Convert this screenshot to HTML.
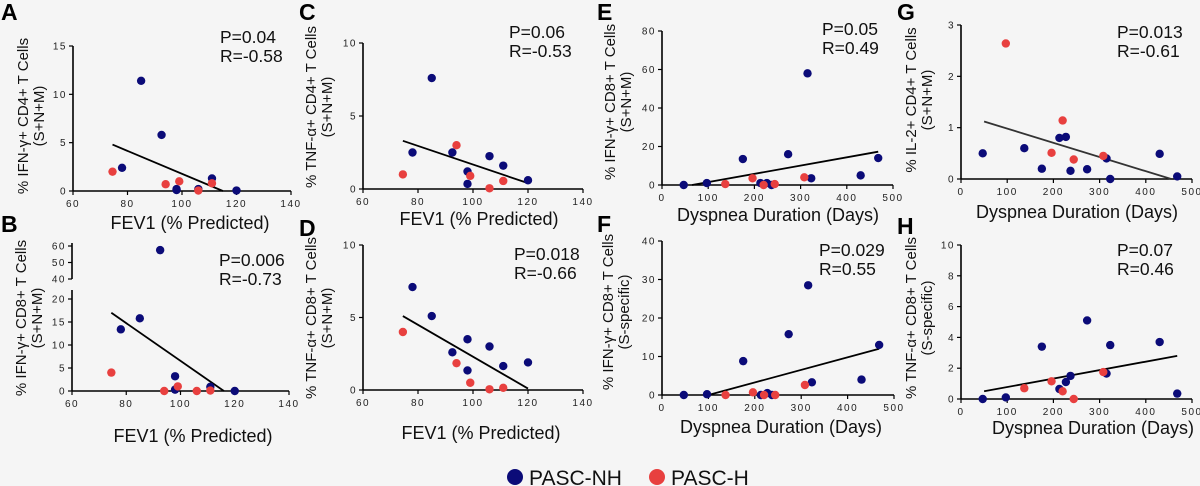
<!DOCTYPE html>
<html><head><meta charset="utf-8"><style>
html,body{margin:0;padding:0;background:#f5f5f5;width:1200px;height:486px;overflow:hidden}
svg{font-family:"Liberation Sans",sans-serif}
</style></head><body>
<svg id="fig" width="1200" height="486"></svg>
<script>
// ---- data ----
const fevBlueX=[85,92.5,78,98,98,106,111,120];
const fevRedX=[74.5,94,99,106,111];
const aBlue=[11.4,5.8,2.4,0.2,0.1,0.2,1.3,0.05];
const aRed=[2.0,0.7,1.0,0.05,0.8];
const bBlueX=[92.5,85,78,98,98,111,120];
const bBlue=[57.5,15.8,13.4,3.2,0.3,0.9,0];
const bRed=[4,0,1,0,0.1];
const cBlue=[7.6,2.5,2.5,1.2,0.35,2.25,1.6,0.6];
const cRed=[1.0,3.0,0.9,0.05,0.55];
const dBlue=[5.1,2.6,7.1,3.5,1.35,3.0,1.65,1.9];
const dRed=[4.0,1.85,0.5,0.05,0.15];
const dysBlueX=[47,97,175,213,227,237,273,315,323,430,468];
const dysRedX=[137,196,220,244,308];
const eBlue=[0,1,13.5,1,1,0,16,58,3.5,5,14];
const eRed=[0.5,3.5,0,0.5,4];
const fBlue=[0,0.2,8.8,0,0.5,0,15.8,28.5,3.3,4,13];
const fRed=[0,0.7,0,0,2.6];
const gBlue=[0.5,0.6,0.2,0.8,0.82,0.16,0.19,0.4,0,0.49,0.05];
const gRed=[2.64,0.51,1.14,0.38,0.45];
const hBlue=[0,0.1,3.4,0.65,1.1,1.5,5.1,1.65,3.5,3.7,0.35];
const hRed=[0.7,1.15,0.5,0,1.75];
const fevTicks=[60,80,100,120,140];
const dysTicks=[0,100,200,300,400,500];
const trendA=[[74.5,4.8],[115,0]];
const trendB=[[74.5,17],[116,0]];
const trendC=[[74.5,3.3],[120,0.4]];
const trendD=[[74.5,5.1],[120,0.1]];
const trendE=[[65,0],[468,17.3]];
const trendF=[[100,0],[468,12]];
const trendG=[[50,1.12],[455,0]];
const trendH=[[50,0.5],[468,2.8]];

const NS="http://www.w3.org/2000/svg";
const svg=document.getElementById('fig');
function mk(tag,attrs,parent,text){const e=document.createElementNS(NS,tag);for(const k in attrs)e.setAttribute(k,attrs[k]);if(text!==undefined)e.textContent=text;(parent||svg).appendChild(e);return e;}
const BLUE="#0b0b78",RED="#e8403f";

function panel(p){
  const g=mk('g',{});
  
  
  const sx=v=>p.x0+(v-p.xmin)/(p.xmax-p.xmin)*(p.x1-p.x0);
  const sy=p.sy||(v=>p.yb+(v-0)/(p.ymax)*(p.yt-p.yb));
  const L=mk('text',{x:p.lx,y:p.ly,'font-size':23,'font-weight':'bold',fill:'#000'},g,p.id);
  
  
  const xa=mk('line',{x1:p.x0,y1:p.yb,x2:p.x1,y2:p.yb,stroke:'#000','stroke-width':1.6},g);
  
  
  p.xticks.forEach(t=>{
    mk('line',{x1:sx(t),y1:p.yb,x2:sx(t),y2:p.yb+4,stroke:'#000','stroke-width':1.2},g);
    const tl=mk('text',{x:sx(t),y:p.yb+16,'font-size':10,'text-anchor':'middle','letter-spacing':1.5,fill:'#222'},g,t);
    
    
  });
  (p.ysegs||[[p.yb,p.yt]]).forEach(s=>{
    const ya=mk('line',{x1:p.x0,y1:s[0],x2:p.x0,y2:s[1],stroke:'#000','stroke-width':1.6},g);
    
    
  });
  p.yticks.forEach(t=>{
    const y=sy(t);
    mk('line',{x1:p.x0-4,y1:y,x2:p.x0,y2:y,stroke:'#000','stroke-width':1.2},g);
    const tl=mk('text',{x:p.x0-6,y:y+3.5,'font-size':10,'text-anchor':'end','letter-spacing':1.5,fill:'#222'},g,t);
    
    
  });
  const xt=mk('text',{x:p.xtx,y:p.xty,'font-size':18,'text-anchor':'middle',fill:'#111'},g,p.xtitle);
  
  
  const yt=mk('text',{transform:`translate(${p.ytx},${p.yty}) rotate(-90)`,'font-size':15,'text-anchor':'middle',fill:'#111'},g);
  
  
  mk('tspan',{x:0,y:0},yt,p.ytitle[0]);
  mk('tspan',{x:0,y:16},yt,p.ytitle[1]);
  const tr=mk('line',{x1:sx(p.trend[0][0]),y1:sy(p.trend[0][1]),x2:sx(p.trend[1][0]),y2:sy(p.trend[1][1]),stroke:p.tc||'#000','stroke-width':1.8},g);
  
  
  p.blueX.forEach((xv,i)=>{
    const c=mk('circle',{cx:sx(xv),cy:sy(p.blue[i]),r:4.2,fill:BLUE},g);
    
    
  });
  p.redX.forEach((xv,i)=>{
    const c=mk('circle',{cx:sx(xv),cy:sy(p.red[i]),r:4.2,fill:RED},g);
    
    
  });
  const st=mk('text',{x:p.px,y:p.py,'font-size':17.5,fill:'#111'},g);
  
  
  mk('tspan',{x:p.px,y:p.py},st,p.P);
  mk('tspan',{x:p.px,y:p.py+19},st,p.R);
}
const fevT="FEV1 (% Predicted)",dysT="Dyspnea Duration (Days)";
panel({id:'A',lx:1,ly:20,x0:73,x1:291,xmin:60,xmax:140,yb:191,yt:46,ymax:15,xticks:fevTicks,yticks:[0,5,10,15],
  blueX:fevBlueX,blue:aBlue,redX:fevRedX,red:aRed,trend:trendA,xtitle:fevT,xtx:190,xty:229,
  ytitle:["% IFN-γ+ CD4+ T Cells","(S+N+M)"],ytx:28,yty:116,px:220,py:43,P:"P=0.04",R:"R=-0.58"});
const sB=v=>v>=40? 279+(v-40)/20*(246-279) : 391+v/20*(299-391);
panel({id:'B',lx:1,ly:232,x0:72,x1:289,xmin:60,xmax:140,yb:391,yt:299,ymax:20,sy:sB,ysegs:[[391,290],[279,243]],xticks:fevTicks,yticks:[0,5,10,15,20,40,50,60],
  blueX:bBlueX,blue:bBlue,redX:fevRedX,red:bRed,trend:trendB,xtitle:fevT,xtx:193,xty:442,
  ytitle:["% IFN-γ+ CD8+ T Cells","(S+N+M)"],ytx:26,yty:318,px:219,py:266,P:"P=0.006",R:"R=-0.73"});
panel({id:'C',lx:299,ly:20,x0:363,x1:583,xmin:60,xmax:140,yb:189,yt:43,ymax:10,xticks:fevTicks,yticks:[0,5,10],
  blueX:fevBlueX,blue:cBlue,redX:fevRedX,red:cRed,trend:trendC,xtitle:fevT,xtx:479,xty:225,
  ytitle:["% TNF-α+ CD4+ T Cells","(S+N+M)"],ytx:316,yty:107,px:509,py:38,P:"P=0.06",R:"R=-0.53"});
panel({id:'D',lx:299,ly:236,x0:363,x1:583,xmin:60,xmax:140,yb:390,yt:245,ymax:10,xticks:fevTicks,yticks:[0,5,10],
  blueX:[85,92.5,78,98,98,106,111,120],blue:dBlue,redX:fevRedX,red:dRed,trend:trendD,xtitle:fevT,xtx:481,xty:439,
  ytitle:["% TNF-α+ CD8+ T Cells","(S+N+M)"],ytx:316,yty:318,px:514,py:260,P:"P=0.018",R:"R=-0.66"});
panel({id:'E',lx:597,ly:20,x0:662,x1:893,xmin:0,xmax:500,yb:185,yt:31,ymax:80,xticks:dysTicks,yticks:[0,20,40,60,80],
  blueX:dysBlueX,blue:eBlue,redX:dysRedX,red:eRed,trend:trendE,xtitle:dysT,xtx:778,xty:221,
  ytitle:["% IFN-γ+ CD8+ T Cells","(S+N+M)"],ytx:615,yty:102,px:822,py:35,P:"P=0.05",R:"R=0.49"});
panel({id:'F',lx:597,ly:232,x0:662,x1:894,xmin:0,xmax:500,yb:395,yt:241,ymax:40,xticks:dysTicks,yticks:[0,10,20,30,40],
  blueX:dysBlueX,blue:fBlue,redX:dysRedX,red:fRed,trend:trendF,xtitle:dysT,xtx:781,xty:433,
  ytitle:["% IFN-γ+ CD8+ T Cells","(S-specific)"],ytx:613,yty:312,px:819,py:256,P:"P=0.029",R:"R=0.55"});
panel({id:'G',lx:897,ly:20,x0:961,x1:1192,xmin:0,xmax:500,yb:179,yt:25,ymax:3,xticks:dysTicks,yticks:[0,1,2,3],
  blueX:[47,137,175,213,227,237,273,315,323,430,468],blue:gBlue,redX:[97,196,220,244,308],red:gRed,trend:trendG,tc:'#333',xtitle:dysT,xtx:1077,xty:218,
  ytitle:["% IL-2+ CD4+ T Cells","(S+N+M)"],ytx:916,yty:100,px:1117,py:38,P:"P=0.013",R:"R=-0.61"});
panel({id:'H',lx:897,ly:234,x0:961,x1:1192,xmin:0,xmax:500,yb:399,yt:245,ymax:10,xticks:dysTicks,yticks:[0,2,4,6,8,10],
  blueX:dysBlueX,blue:hBlue,redX:dysRedX,red:hRed,trend:trendH,xtitle:dysT,xtx:1093,xty:434,
  ytitle:["% TNF-α+ CD8+ T Cells","(S-specific)"],ytx:916,yty:318,px:1117,py:256,P:"P=0.07",R:"R=0.46"});
const lg=mk('g',{});


const l1=mk('circle',{cx:515,cy:477,r:8,fill:BLUE},lg);


const t1=mk('text',{x:529,y:485,'font-size':21,fill:'#111'},lg,'PASC-NH');


const l2=mk('circle',{cx:657,cy:477,r:8,fill:RED},lg);


const t2=mk('text',{x:671,y:485,'font-size':21,fill:'#111'},lg,'PASC-H');


</script>
</body></html>
